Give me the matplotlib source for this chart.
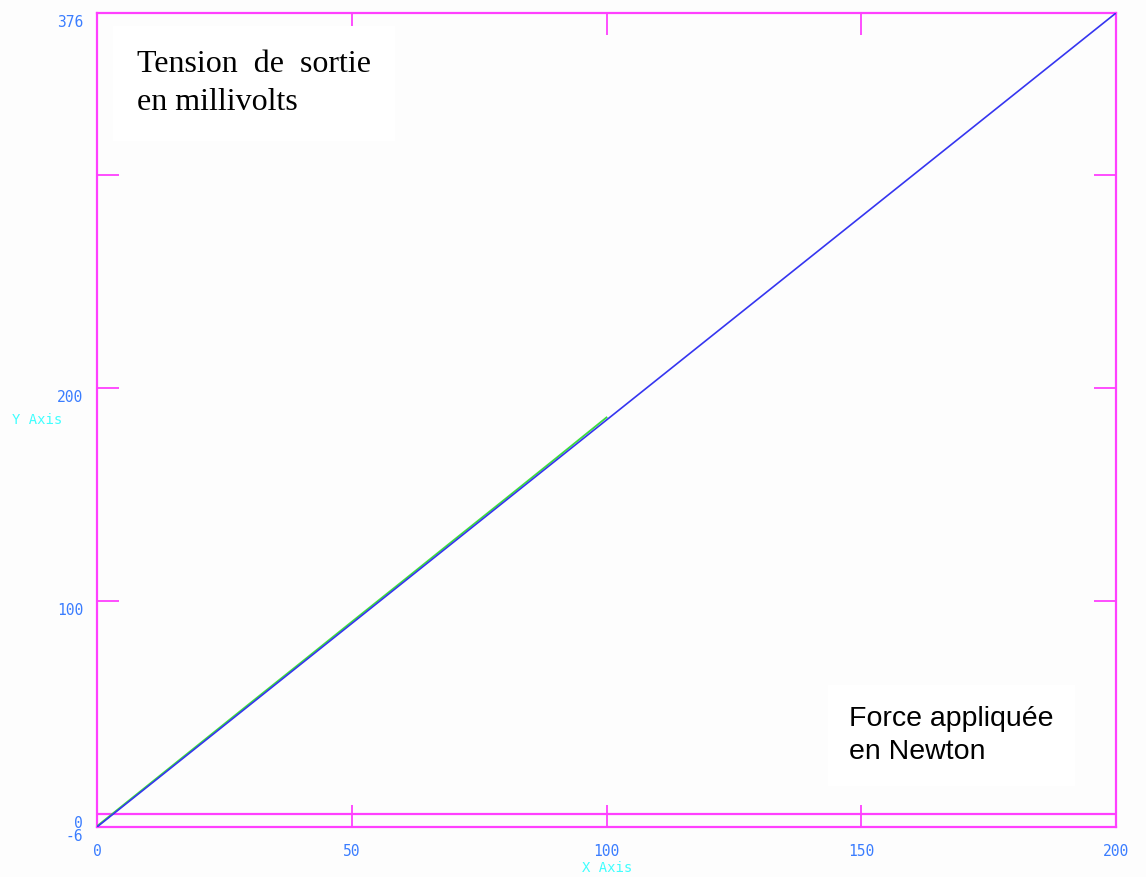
import matplotlib
matplotlib.use("Agg")
import matplotlib.pyplot as plt
from matplotlib.transforms import ScaledTranslation

# Calibration data: output voltage (mV) vs applied force (N)
fit_force = [0, 200]
fit_tension = [-6, 376]

meas_force = [0, 10, 20, 30, 40, 50, 60, 70, 80, 90, 100]
meas_tension = [-5.6, 13.6, 32.8, 52.0, 71.1, 90.3, 109.4, 128.6, 147.7, 166.9, 186.2]

x_ticks = [0, 50, 100, 150, 200]
x_labels = ["0", "50", "100", "150", "200"]
y_ticks = [-6, 0, 100, 200, 300, 376]
y_labels = ["-6", "0", "100", "200", "", "376"]

MAGENTA = "#ff40ff"
TICK_BLUE = "#3a7dff"
CYAN = "#40ffff"
LINE_BLUE = "#3535f0"
LINE_GREEN = "#3ddc3d"

fig = plt.figure(figsize=(11.46, 8.77), dpi=100, facecolor="#fdfdfd")
ax = fig.add_axes([97 / 1146, 1 - 827 / 877, 1019 / 1146, 814 / 877])
ax.set_facecolor("#fdfdfd")

ax.plot(meas_force, meas_tension, color=LINE_GREEN, lw=1.3, zorder=3)
ax.plot(fit_force, fit_tension, color=LINE_BLUE, lw=1.2, zorder=4)
ax.axhline(0, color=MAGENTA, lw=1.6, zorder=2)

ax.set_xlim(0, 200)
ax.set_ylim(-6, 376)

for s in ax.spines.values():
    s.set_color(MAGENTA)
    s.set_linewidth(1.6)

ax.set_xticks(x_ticks)
ax.set_xticklabels(x_labels)
ax.set_yticks(y_ticks)
ax.set_yticklabels(y_labels)
ax.tick_params(axis="both", direction="in", length=16, width=1.3, color=MAGENTA,
               top=True, right=True, labelcolor=TICK_BLUE, labelsize=10.5)
ax.tick_params(axis="x", pad=12)
ax.tick_params(axis="y", pad=10)
for lab in ax.get_xticklabels() + ax.get_yticklabels():
    lab.set_fontfamily("DejaVu Sans Mono")
# y labels sit just below their tick positions
shift = ScaledTranslation(0, -8 / 100, fig.dpi_scale_trans)
for lab in ax.get_yticklabels():
    lab.set_transform(lab.get_transform() + shift)

fig.text(12 / 1146, 1 - 420 / 877, "Y Axis", color=CYAN, fontsize=10,
         family="DejaVu Sans Mono", ha="left", va="center")
fig.text(607 / 1146, 1 - 868 / 877, "X Axis", color=CYAN, fontsize=10,
         family="DejaVu Sans Mono", ha="center", va="center")

fig.text(137 / 1146, 1 - 50 / 877, "Tension  de  sortie\nen millivolts",
         family="Liberation Serif", fontsize=23, color="black", ha="left", va="top",
         linespacing=1.4,
         bbox=dict(facecolor="white", edgecolor="none", boxstyle="square,pad=0.75"))
fig.text(849 / 1146, 1 - 706 / 877, "Force appliquée\nen Newton",
         family="Liberation Sans", fontsize=20.5, color="black", ha="left", va="top",
         linespacing=1.35,
         bbox=dict(facecolor="white", edgecolor="none", boxstyle="square,pad=0.75"))

fig.savefig("out.png", dpi=100, facecolor=fig.get_facecolor())
